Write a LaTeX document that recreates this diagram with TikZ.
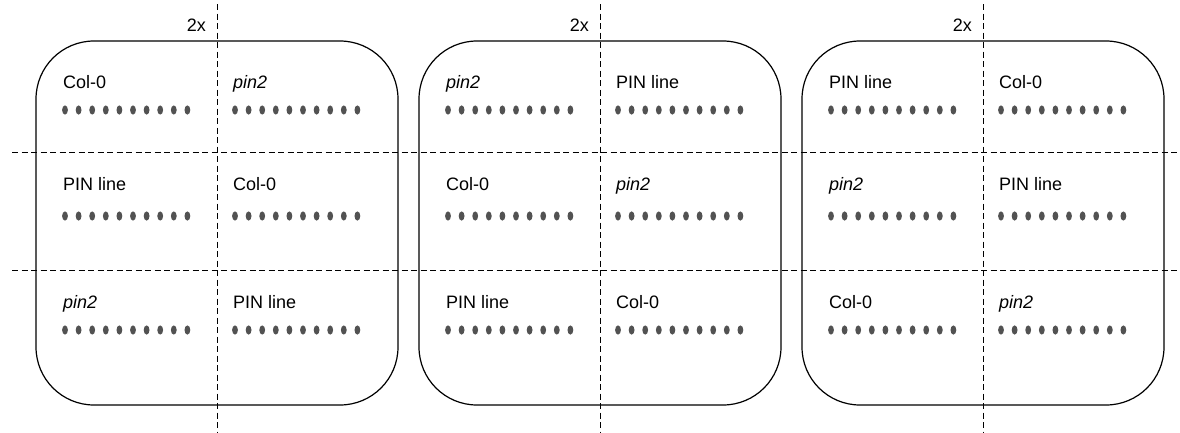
\documentclass[tikz,border=0pt]{standalone}
\usepackage{fontspec}
\setmainfont{Liberation Sans}
\usetikzlibrary{positioning,calc}
\newcommand{\COL}{Col-0}
\newcommand{\PIN}{PIN line}
\newcommand{\PINTWO}{\textit{pin2}}
\begin{document}
\begin{tikzpicture}[x=1pt, y=-1pt]
% Define
\tikzstyle{BOX} = [rectangle, draw, line width=1.2pt, rounded corners=58pt, minimum width=362pt, minimum height=364pt, inner sep=0pt]
\tikzstyle{LABEL} = [anchor=base west, inner sep=0pt, font=\fontsize{18}{21}\selectfont]
\tikzstyle{TWOX} = [anchor=base east, inner sep=0pt, font=\fontsize{18}{21}\selectfont]
\tikzstyle{DOT} = [fill=black!68, draw=none]
\tikzstyle{DASHLINE} = [draw, line width=1pt, dash pattern=on 6pt off 3.5pt]
\useasboundingbox (0,0) rectangle (1180,432);
% Boxes with labels
\foreach \i/\xl/\la/\lb/\lc/\ld/\le/\lf in {
    1/36/\COL/\PINTWO/\PIN/\COL/\PINTWO/\PIN,
    2/419/\PINTWO/\PIN/\COL/\PINTWO/\PIN/\COL,
    3/802/\PIN/\COL/\PINTWO/\PIN/\COL/\PINTWO} {
  \node [BOX] (BOX_\i) at (\xl+181, 223) {};
  \node [TWOX] (TWOX_\i) at (\xl+170, 31.5) {2x};
  \node [LABEL] (LABEL_\i_1) at (\xl+27, 88) {\la};
  \node [LABEL] (LABEL_\i_2) at (\xl+197, 88) {\lb};
  \node [LABEL] (LABEL_\i_3) at (\xl+27, 190) {\lc};
  \node [LABEL] (LABEL_\i_4) at (\xl+197, 190) {\ld};
  \node [LABEL] (LABEL_\i_5) at (\xl+27, 308) {\le};
  \node [LABEL] (LABEL_\i_6) at (\xl+197, 308) {\lf};
  % dots
  \foreach \c in {29,199}
    \foreach \r in {110,216,330}
      \foreach \k in {0,...,9}
        \fill [DOT] (\xl+\c+\k*13.6, \r) ellipse [x radius=2.9pt, y radius=4.6pt];
  % vertical split
  \coordinate (TOP_\i) at (\xl+181, 4);
  \coordinate (BOT_\i) at (\xl+181, 432);
  \path [DASHLINE] (TOP_\i) -- (BOT_\i);
}
% horizontal splits
\coordinate (WEST_1) at (12, 152);
\coordinate (EAST_1) at (1180, 152);
\coordinate (WEST_2) at (12, 270);
\coordinate (EAST_2) at (1180, 270);
\path [DASHLINE] (WEST_1) -- (EAST_1);
\path [DASHLINE] (WEST_2) -- (EAST_2);
\end{tikzpicture}
\end{document}
